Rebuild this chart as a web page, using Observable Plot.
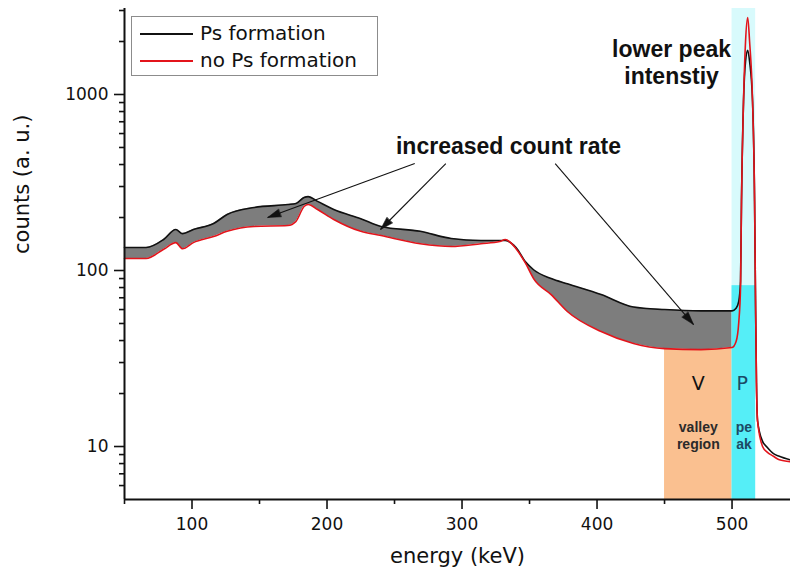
<!DOCTYPE html>
<html>
<head>
<meta charset="utf-8">
<script src="https://cdn.jsdelivr.net/npm/d3@7"></script>
<script src="https://cdn.jsdelivr.net/npm/@observablehq/plot@0.6"></script>
<style>
  body { margin: 0; background: #fff; }
  #wrap { position: relative; width: 790px; height: 577px; overflow: hidden; }
  #legend { position: absolute; left: 131px; top: 16px; width: 245px; height: 58px;
            border: 1px solid #8c8c8c; background: #fff; font-family: "DejaVu Sans"; font-size: 20px; color: #111; }
  #legend .sw { position: absolute; left: 8px; width: 53px; height: 0; }
  #legend .lab { position: absolute; left: 68px; line-height: 20px; }
</style>
</head>
<body>
<div id="wrap">
  <div id="chart"></div>
  <div id="legend"></div>
</div>
<script>
// ---- data ----
const energy = [50, 66, 79, 88, 93, 101, 116, 126, 146, 171,
  177, 183, 186, 193, 205, 225, 240, 269, 292, 314,
  328, 332, 340, 347, 353, 366, 378, 403, 427, 450,
  477, 500, 503, 505, 506.3, 507, 508.5, 510, 511.6, 513,
  515.2, 516.7, 517.4, 518.1, 518.9, 522.6, 526, 530.7, 535, 543];
const psFormation = [135, 135, 150, 171, 162, 171, 185, 208, 228, 237,
  240, 260, 263, 247, 222, 197, 178, 167, 152, 148,
  148, 148, 135, 112, 101, 90, 84, 73, 62, 60,
  59, 59, 61, 67, 87, 247, 912, 1540, 1780, 1540,
  912, 247, 67, 23, 14, 10.7, 9.9, 9.1, 8.8, 8.4];
const noPsFormation = [117, 117, 132, 144, 133, 144, 156, 167, 178, 180,
  190, 231, 237, 222, 195, 167, 158, 142, 137, 142,
  146, 150, 133, 110, 90, 73, 58.5, 45, 38.5, 36,
  35.5, 36.5, 39.5, 51, 81, 247, 912, 2000, 2740, 2000,
  912, 247, 67, 23, 14, 10, 9.3, 8.8, 8.4, 8.2];

const seriesNames = ["Ps formation", "no Ps formation"];
const seriesColors = ["#111111", "#e3141b"];

const xDomain = [50, 543.3];
const yDomain = [5, 3080];
const xTicksMajor = [100, 200, 300, 400, 500];
const xTicksMinor = [50, 150, 250, 350, 450];
const yTicksMajor = [10, 100, 1000];
const yTicksMinor = [6, 7, 8, 9, 20, 30, 40, 50, 60, 70, 80, 90, 200, 300, 400, 500, 600, 700, 800, 900, 2000, 3000];
const xLabel = "energy (keV)";
const yLabel = "counts (a. u.)";

const valleyRegion = [450, 500];
const peakRegion = [500, 517.5];
const peakBrightTop = 82;

const arrowFrom = [[265, 405], [288, 405], [369, 405]];
const arrowTo = [[156, 200], [239.6, 171], [471.5, 49.3]];

const boldNotes = ["increased count rate", "lower peak\nintenstiy"];
const boldNotesX = [334.4, 455.2];
const boldNotesY = [513, 1531];
const bigLetters = ["V", "P"];
const bigLettersX = [475, 507.5];
const bigLettersY = [22.8, 22.8];
const smallNotes = ["valley\nregion", "pe\nak"];
const smallNotesX = [475, 508.8];
const smallNotesY = [11.6, 11.6];

// ---- tables built from the arrays ----
const rows = energy.map((e, i) => ({e, ps: psFormation[i], noPs: noPsFormation[i]}));
const arrows = arrowFrom.map((f, i) => ({x1: f[0], y1: f[1], x2: arrowTo[i][0], y2: arrowTo[i][1]}));
const bold = boldNotes.map((t, i) => ({t, x: boldNotesX[i], y: boldNotesY[i]}));
const letters = bigLetters.map((t, i) => ({t, x: bigLettersX[i], y: bigLettersY[i]}));
const smalls = smallNotes.map((t, i) => ({t, x: smallNotesX[i], y: smallNotesY[i]}));

const headShape = {
  draw(ctx, l, r) { ctx.moveTo(-r, 0); ctx.lineTo(0, -l); ctx.lineTo(r, 0); ctx.closePath(); }
};

function build(extra) {
  return Plot.plot({
    width: 790,
    height: 577,
    marginLeft: 124,
    marginRight: 0,
    marginTop: 8,
    marginBottom: 78,
    style: {fontFamily: "DejaVu Sans", background: "#fff", color: "#111", overflow: "visible"},
    x: {domain: xDomain, label: null},
    y: {type: "log", domain: yDomain, label: null},
    marks: [
      Plot.rect([{x1: peakRegion[0], x2: peakRegion[1], y1: yDomain[0], y2: yDomain[1]}],
        {x1: "x1", x2: "x2", y1: "y1", y2: "y2", fill: "#d8fafc"}),
      Plot.areaY(rows.filter(d => d.e >= valleyRegion[0] && d.e <= valleyRegion[1]),
        {x: "e", y1: () => yDomain[0], y2: "noPs", fill: "#fac090", curve: "monotone-x"}),
      Plot.areaY(rows.filter(d => d.e <= valleyRegion[1]),
        {x: "e", y1: "noPs", y2: "ps", fill: "#7d7d7d", curve: "monotone-x"}),
      Plot.rect([{x1: peakRegion[0], x2: peakRegion[1], y1: yDomain[0], y2: peakBrightTop}],
        {x1: "x1", x2: "x2", y1: "y1", y2: "y2", fill: "#55eef7"}),
      Plot.line(rows, {x: "e", y: "ps", stroke: seriesColors[0], strokeWidth: 1.6, curve: "monotone-x"}),
      Plot.line(rows, {x: "e", y: "noPs", stroke: seriesColors[1], strokeWidth: 1.6, curve: "monotone-x"}),
      Plot.ruleX([xDomain[0]], {stroke: "#111", strokeWidth: 2}),
      Plot.ruleY([yDomain[0]], {stroke: "#111", strokeWidth: 2}),
      Plot.axisX({ticks: xTicksMajor, tickSize: 10, tickPadding: 8, fontSize: 17, strokeWidth: 1.6, label: null, tickFormat: d => String(d)}),
      Plot.axisX({ticks: xTicksMinor, tickSize: 5, strokeWidth: 1.6, label: null, tickFormat: () => ""}),
      Plot.axisY({ticks: yTicksMajor, tickSize: 10, tickPadding: 6, fontSize: 17, strokeWidth: 1.6, label: null, tickFormat: d => String(d)}),
      Plot.axisY({ticks: yTicksMinor, tickSize: 5, strokeWidth: 1.6, label: null, tickFormat: () => ""}),
      Plot.text([xLabel], {frameAnchor: "bottom", dy: 63, fontSize: 21, fill: "#111"}),
      Plot.text([yLabel], {frameAnchor: "left", dx: -102, rotate: -90, fontSize: 21, fill: "#111"}),
      Plot.link(arrows, {x1: "x1", y1: "y1", x2: "x2", y2: "y2", stroke: "#111", strokeWidth: 1.1}),
      Plot.text(bold, {x: "x", y: "y", text: "t", fontFamily: "Liberation Sans", fontWeight: "bold", fontSize: 23, lineHeight: 1.17, fill: "#111"}),
      Plot.text(letters, {x: "x", y: "y", text: "t", fontSize: 19, fill: (d, i) => i === 0 ? "#111" : "#1b4a66"}),
      Plot.text(smalls, {x: "x", y: "y", text: "t", fontFamily: "Liberation Sans", fontWeight: "bold", fontSize: 14, lineHeight: 1.21, fill: (d, i) => i === 0 ? "#2a2a2a" : "#1b4a66"}),
      ...extra
    ]
  });
}

const base = build([]);
const sx = base.scale("x"), sy = base.scale("y");
const heads = arrows.map(a => {
  const dx = sx.apply(a.x2) - sx.apply(a.x1);
  const dy = sy.apply(a.y2) - sy.apply(a.y1);
  return {x: a.x2, y: a.y2, angle: Math.atan2(dx, -dy) * 180 / Math.PI};
});
const chart = build([
  Plot.vector(heads, {x: "x", y: "y", rotate: "angle", length: 13, r: 4, anchor: "end", shape: headShape, fill: "#111", stroke: "#111", strokeWidth: 0.5})
]);
document.getElementById("chart").appendChild(chart);

// legend (HTML overlay)
const legend = document.getElementById("legend");
const rowCenters = [17, 44];
seriesNames.forEach((name, i) => {
  const sw = document.createElement("div");
  sw.className = "sw";
  sw.style.top = (rowCenters[i] - 1) + "px";
  sw.style.borderTop = "2px solid " + seriesColors[i];
  legend.appendChild(sw);
  const lab = document.createElement("div");
  lab.className = "lab";
  lab.style.top = (rowCenters[i] - 11) + "px";
  lab.textContent = name;
  legend.appendChild(lab);
});
</script>
</body>
</html>
